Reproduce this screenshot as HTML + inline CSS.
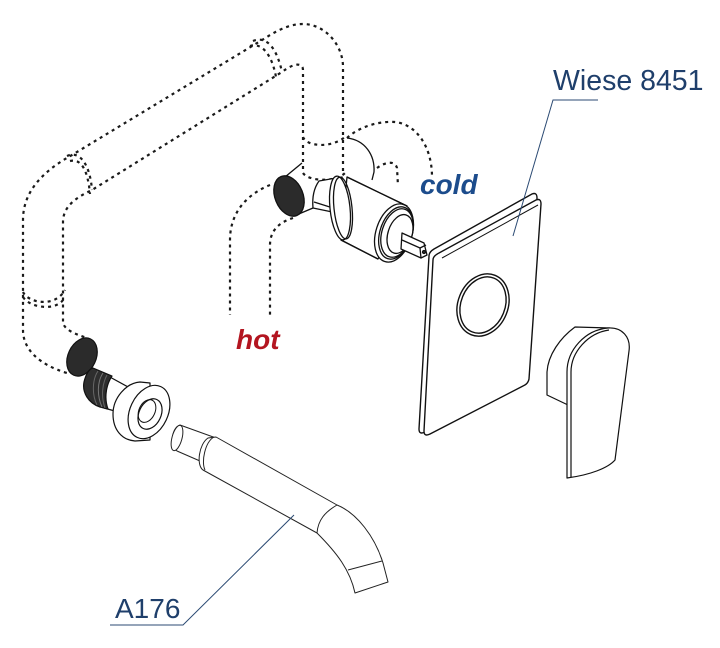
<!DOCTYPE html>
<html><head><meta charset="utf-8"><style>
html,body{margin:0;padding:0;background:#fff;}
svg{display:block;}
</style></head><body>
<svg width="720" height="648" viewBox="0 0 720 648" xmlns="http://www.w3.org/2000/svg">
<rect width="720" height="648" fill="#fff"/>
<g fill="none" stroke="#1a1a1a" stroke-width="2.2" stroke-dasharray="3 4">
  <!-- upper loop outer -->
  <path d="M343 135 L343 67 C343 45 325 24 303 24 C290 24 278 30 267 37 L72 155 C45 170 23 190 23 220 L23 330 C23 350 40 365 67 373"/>
  <!-- upper loop inner -->
  <path d="M303 140 L303 70 C303 63 295 62 282 72 L92 190 C75 198 63 207 63 222 L63 323 C65 330 75 334 87 338"/>
  <!-- collars -->
  <path d="M253 41 C265 36 276 45 282 72"/>
  <path d="M250 46 C262 42 272 55 276 77"/>
  <path d="M67 156 C80 150 90 165 92 190"/>
  <path d="M70 161 C82 158 88 172 90 194"/>
  <path d="M23 292 C28 303 55 308 65 290"/>
  <path d="M23 297 C30 308 55 311 63 300"/>
  <path d="M303 137 C306 146 330 149 345 137"/>
  <path d="M303 145 L303 173"/>
  <path d="M343 140 L343 175"/>
  <path d="M303 173 C308 181 335 183 345 173"/>
  <!-- hot pipe -->
  <path d="M270 185 C250 193 230 210 230 240 L230 315"/>
  <path d="M293 218 C280 222 270 230 270 245 L270 315"/>
  <!-- cold pipe -->
  <path d="M347 138 C360 126 380 121 395 122 C415 124 432 145 432 177"/>
  <path d="M377 168 C385 162 395 160 397 168 L398 186"/>
</g>

<g stroke="#111" stroke-width="1.3" stroke-linejoin="round">
  <!-- cold solid arc -->
  <path d="M347 138 C365 140 375 155 374 172 L372 180" fill="none"/>
  <!-- hot inlet body lines -->
  <path d="M285 177 L302 163" fill="none"/>
  <path d="M294 216 L313 208" fill="none"/>
  <ellipse cx="289" cy="196" rx="14" ry="21" transform="rotate(-22 289 196)" fill="#2b2b2b"/>
  <!-- connector cylinder -->
  <path d="M319 181 L342 177 L342 214 L313 208 C312 197 314 188 319 181 Z" fill="#fff"/>
  <path d="M314 202 L333 208" fill="none"/>
  <!-- big cylinder -->
  <path d="M347 177 L407 206 L378 259 L341 240 Z" fill="#fff"/>
  <path d="M347 177 L407 206" fill="none"/>
  <path d="M341 240 L378 259" fill="none"/>
  <ellipse cx="340" cy="208" rx="10" ry="32" transform="rotate(-6 340 208)" fill="#fff"/>
  <ellipse cx="343" cy="208" rx="9" ry="31" transform="rotate(-6 343 208)" fill="none"/>
  <!-- right end rings -->
  <ellipse cx="394" cy="233" rx="18" ry="30" transform="rotate(18 394 233)" fill="#fff"/>
  <ellipse cx="396" cy="233" rx="16" ry="27" transform="rotate(18 396 233)" fill="#fff"/>
  <ellipse cx="397" cy="233" rx="15" ry="25" transform="rotate(18 397 233)" fill="#fff"/>
  <ellipse cx="400" cy="234" rx="12" ry="20" transform="rotate(18 400 234)" fill="#fff"/>
  <!-- stem -->
  <path d="M402 233 L424 243 L427 255 L421 258 L401 249 Z" fill="#fff"/>
  <path d="M402 240 L420 248 L421 258" fill="none"/>
  <path d="M420 248 L426 245" fill="none"/>
  <circle cx="424" cy="252" r="1.5" fill="#333"/>
</g>

<!-- cover plate -->
<g stroke="#111" stroke-width="1.4" stroke-linejoin="round" fill="#fff">
  <path d="M434 249 L532 194 Q537 192 537 198 L525 378 Q524 383 519 385 L425 432 Q419 435 419 429 L429 256 Q429 252 434 249 Z"/>
  <path d="M439 253 L536 200 Q541 198 541 204 L529 379 Q528 384 523 386 L430 434 Q424 437 424 431 L433 260 Q433 256 439 253 Z"/>
  <path d="M442 258 L538 205" fill="none" stroke-width="1"/>
  <ellipse cx="483" cy="305" rx="25" ry="32" transform="rotate(22 483 305)"/>
  <ellipse cx="483" cy="305" rx="22" ry="29" transform="rotate(22 483 305)" fill="none"/>
</g>

<!-- handle -->
<g stroke="#111" stroke-width="1.2" stroke-linejoin="round" fill="#fff">
  <path d="M610 328 L575 327 C560 338 548 355 547 372 L547 395 L568 405 Z"/>
  <path d="M567 372 C567 350 585 330 608 328 C622 327 631 337 629 351 L615 460 C608 468 590 475 567 478 Z"/>
  <path d="M571 372 C571 352 588 333 609 330" fill="none"/>
  <path d="M571 372 L571 477" fill="none"/>
</g>

<!-- left fittings -->
<g stroke="#111" stroke-width="1.2" stroke-linejoin="round">
  <ellipse cx="82" cy="357" rx="14" ry="20" transform="rotate(25 82 357)" fill="#2b2b2b"/>
  <!-- smooth cylinder -->
  <path d="M108 376 L130 388 L122 413 L104 408 Z" fill="#fff"/>
  <!-- threaded -->
  <path d="M93 368 L112 376 C106 385 104 398 108 409 L100 407 C88 403 82 392 84 382 C86 374 89 369 93 368 Z" fill="#2e2e2e"/>
  <path d="M98 371 C92 380 92 395 97 405" stroke="#666" fill="none" stroke-width="1"/>
  <path d="M103 373 C97 382 97 396 102 407" stroke="#777" fill="none" stroke-width="1"/>
  <path d="M107 375 C102 384 101 397 105 408" stroke="#666" fill="none" stroke-width="1"/>
  <!-- ring -->
  <path d="M140 382 C126 383 113 398 113 414 C113 430 122 440 135 441 L150 440 L150 383 Z" fill="#fff"/>
  <ellipse cx="149" cy="412" rx="19" ry="28" transform="rotate(25 149 412)" fill="#fff"/>
  <ellipse cx="150" cy="414" rx="11" ry="16" transform="rotate(25 150 414)" fill="#fff"/>
  <ellipse cx="147" cy="411" rx="8" ry="12" transform="rotate(25 147 411)" fill="none" stroke-width="1"/>
</g>

<!-- spout -->
<g stroke="#222" stroke-width="1" stroke-linejoin="round" fill="#fff">
  <path d="M180 425 L216 438 L200 461 L177 451 C170 446 171 428 180 425 Z"/>
  <ellipse cx="177" cy="438" rx="5" ry="13" transform="rotate(15 177 438)"/>
  <path d="M216 437 L337 505 C357 513 375 537 383 563 L388 582 L355 593 C350 570 337 553 317 533 L203 470 C196 465 199 444 208 438 Z"/>
  <path d="M214 437 C205 442 201 462 205 470" fill="none"/>
  <path d="M337 505 C325 512 318 520 317 533" fill="none"/>
  <path d="M348 570 L382 561" fill="none"/>
</g>

<!-- leader lines -->
<g stroke="#2b4a73" stroke-width="1" fill="none">
  <path d="M598 100 L553 100 L513 236"/>
  <path d="M110 625 L183 625 L294 515"/>
</g>

<!-- labels -->
<text x="553" y="90" font-family="Liberation Sans, sans-serif" font-size="28.5" fill="#1f3f6b">Wiese 8451</text>
<text x="115" y="618" font-family="Liberation Sans, sans-serif" font-size="28" fill="#1f3f6b">A176</text>
<text x="420" y="194" font-family="Liberation Sans, sans-serif" font-size="28" font-weight="bold" font-style="italic" fill="#1c4c8c">cold</text>
<text x="236" y="349" font-family="Liberation Sans, sans-serif" font-size="28" font-weight="bold" font-style="italic" fill="#b31520">hot</text>
</svg>
</body></html>
